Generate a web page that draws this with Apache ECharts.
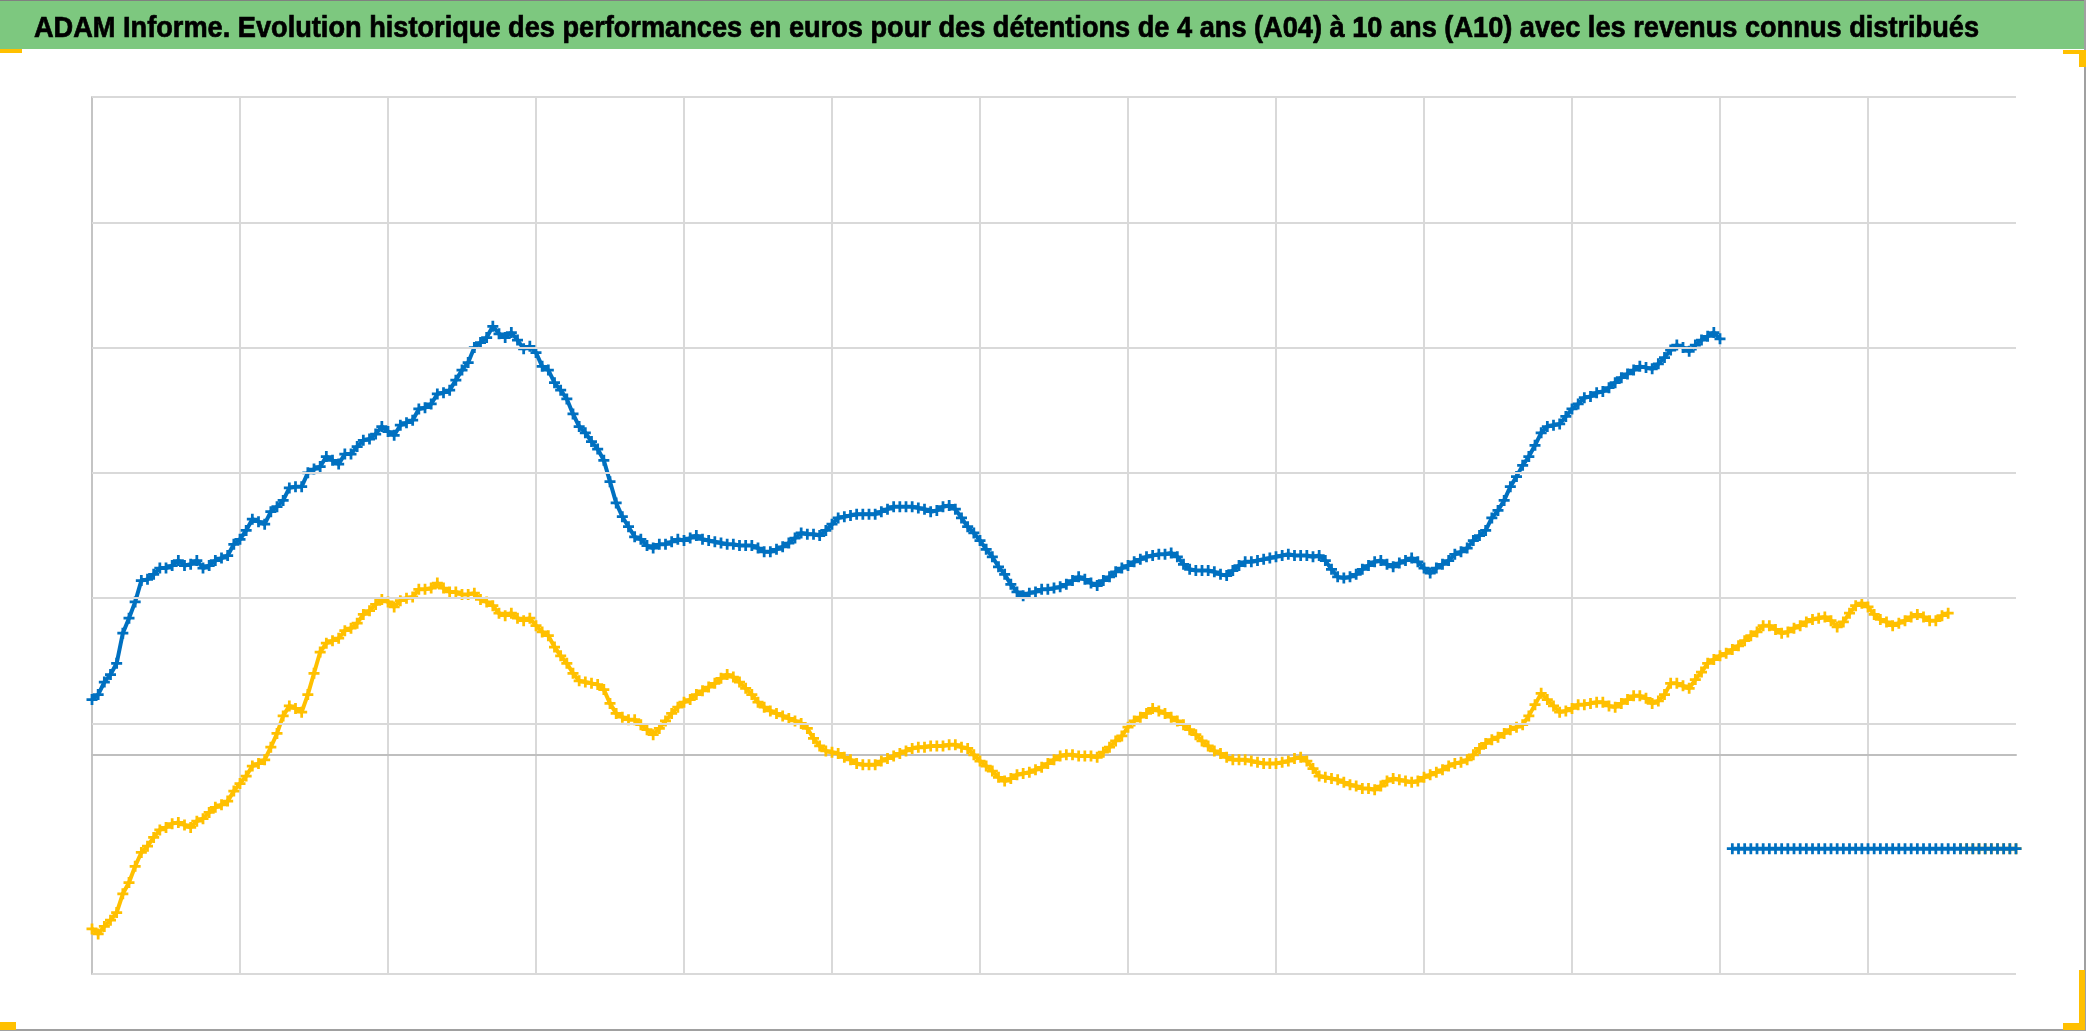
<!DOCTYPE html>
<html><head><meta charset="utf-8">
<script src="https://cdn.jsdelivr.net/npm/echarts@6/dist/echarts.min.js"></script>
<style>html,body{margin:0;padding:0;background:#fff;overflow:hidden}#c{width:2086px;height:1031px}</style>
</head><body><div id="c"></div><script>
const titleText = "ADAM Informe. Evolution historique des performances en euros pour des détentions de 4 ans (A04) à 10 ans (A10) avec les revenus connus distribués";

// x positions are observation indexes (0..312), vertical gridline every 24 observations
const xMax = 312;
const xStep = 24;
// y range and the horizontal gridlines that are drawn (the one at -75 is absent in the original)
const yMin = -175;
const yMax = 525;
const yGridValues = [-175, 25, 125, 225, 325, 425, 525];

// blue series, a gap, then its flat tail
const blueSeries = [
44,48,58,64,73,97,109,122,139,140,
144,149,149,151,155,151,152,155,149,151,
155,157,159,168,172,179,188,186,184,194,
198,203,213,214,214,225,228,230,238,235,
232,240,240,246,251,252,256,262,258,255,
263,265,267,276,277,280,288,289,291,299,
307,313,325,329,333,342,336,333,337,331,
324,326,321,310,307,297,291,284,272,262,
257,250,244,235,218,201,190,182,174,172,
167,165,168,168,170,172,171,173,175,172,
171,170,169,168,168,167,167,167,165,162,
162,164,166,169,173,177,176,176,175,179,
184,189,190,191,192,192,192,192,194,196,
198,198,198,198,197,196,194,195,198,199,
196,189,182,177,171,164,158,150,144,136,
130,127,129,130,132,132,133,134,136,139,
142,140,137,135,139,142,146,149,151,154,
156,158,159,160,160,161,158,152,148,147,
147,147,146,144,143,147,151,154,154,155,
156,157,158,159,160,159,159,159,158,159,
155,148,142,141,142,144,148,151,154,155,
152,150,153,155,157,154,149,145,149,152,
155,160,162,165,171,175,179,189,195,203,
214,222,231,238,247,257,262,263,264,270,
276,280,285,286,289,290,293,297,301,304,
307,310,309,308,312,317,323,327,325,322,
327,331,334,337,332,
null,
-75,-75,-75,-75,-75,-75,-75,-75,-75,-75,
-75,-75,-75,-75,-75,-75,-75,-75,-75,-75,
-75,-75,-75,-75,-75,-75,-75,-75,-75,-75,
-75,-75,-75,-75,-75,-75,-75,-75,-75,-75,
-75,-75,-75,-75,-75,-75,-75
];

// yellow series, a gap, then its flat tail
const yellowSeries = [
-139,-143,-137,-132,-126,-111,-102,-89,-78,-73,
-66,-60,-58,-55,-54,-56,-58,-53,-51,-46,
-42,-40,-37,-29,-23,-17,-9,-7,-4,6,
17,31,39,37,34,48,65,82,89,91,
93,99,101,105,112,115,120,124,122,118,
123,125,126,132,132,133,137,133,130,130,
128,128,129,124,122,119,113,111,113,109,
107,109,103,98,95,86,79,73,65,59,
58,57,56,52,41,33,30,28,28,24,
20,16,21,27,33,38,42,44,48,51,
54,57,61,64,62,58,53,48,42,38,
35,33,31,29,27,25,21,13,7,3,
2,1,-2,-4,-7,-8,-8,-8,-5,-3,
-1,1,3,5,6,6,7,7,7,8,
8,6,5,0,-5,-9,-13,-18,-21,-19,
-16,-15,-14,-12,-10,-7,-4,-1,0,0,
-1,-1,-1,-2,2,6,11,15,22,27,
30,33,37,35,33,30,27,24,20,16,
11,7,3,1,-2,-4,-4,-4,-5,-6,
-7,-7,-7,-6,-5,-3,-2,-5,-11,-17,
-18,-19,-20,-22,-24,-25,-27,-27,-28,-25,
-21,-19,-20,-21,-22,-21,-18,-16,-14,-12,
-9,-7,-6,-4,0,5,9,12,14,17,
20,22,24,31,40,49,44,39,34,35,
37,40,40,41,42,42,39,38,41,44,
47,47,45,41,43,48,57,57,55,53,
60,66,73,76,79,81,84,87,91,95,
98,103,103,100,97,98,101,103,106,108,
109,110,107,102,106,113,119,121,118,112,
108,106,103,105,107,110,112,110,107,107,
111,113,
null,
-75,-75,-75,-75,-75,-75,-75,-75,-75,-75
];

const plusSymbol = 'path://M3,0H5V3H8V5H5V8H3V5H0V3H3Z';
const toPoints = arr => arr.map((v, i) => [i, v]);

// title sizing (horizontal scale to match the condensed original font)
const titleFont = 'bold 30px "Liberation Sans Narrow", "Liberation Sans", Arial, sans-serif';
const mctx = document.createElement('canvas').getContext('2d');
mctx.font = titleFont;
const titleW = mctx.measureText(titleText).width;
const titleTargetW = 1945;
const titleScale = titleTargetW / titleW;

function markerSeries(name, values, color, z) {
  return {
    name: name, type: 'line', data: toPoints(values), connectNulls: false,
    showSymbol: true, showAllSymbol: true, symbol: plusSymbol, symbolSize: 11,
    lineStyle: {color: color, width: 4}, itemStyle: {color: color, opacity: 1},
    z: z, silent: true
  };
}

const chart = echarts.init(document.getElementById('c'), null, {renderer: 'canvas'});
chart.setOption({
  animation: false,
  backgroundColor: '#ffffff',
  grid: {left: 92, right: 70, top: 97, bottom: 57, containLabel: false},
  xAxis: {
    type: 'value', min: 0, max: xMax, interval: xStep,
    axisLine: {show: true, onZero: true, lineStyle: {color: '#bfbfbf', width: 2}},
    axisTick: {show: false}, axisLabel: {show: false},
    splitLine: {show: true, showMinLine: false, showMaxLine: false, lineStyle: {color: '#d9d9d9', width: 2}}
  },
  yAxis: {
    type: 'value', min: yMin, max: yMax,
    axisLine: {show: true, onZero: false, lineStyle: {color: '#c4c4c4', width: 2}},
    axisTick: {show: false}, axisLabel: {show: false},
    splitLine: {show: false}
  },
  series: [
    {
      name: 'grid', type: 'scatter', data: [], z: 1, silent: true,
      markLine: {
        silent: true, symbol: ['none', 'none'], label: {show: false},
        lineStyle: {color: '#d9d9d9', width: 2, type: 'solid'},
        data: yGridValues.map(v => ({yAxis: v}))
      }
    },
    markerSeries('A04', yellowSeries, '#FFC000', 3),
    markerSeries('A10', blueSeries, '#0070C0', 4)
  ],
  graphic: [
    {type: 'rect', shape: {x: 0, y: 0, width: 2086, height: 49}, style: {fill: '#7dc87f'}, z: 10},
    {type: 'rect', shape: {x: 0, y: 0, width: 2086, height: 1}, style: {fill: '#808080'}, z: 11},
    {type: 'rect', shape: {x: 2084, y: 0, width: 2, height: 1031}, style: {fill: '#a0a0a0'}, z: 11},
    {type: 'rect', shape: {x: 0, y: 1029, width: 2086, height: 2}, style: {fill: '#a0a0a0'}, z: 11},
    {type: 'text', x: 34, y: 28.3, scaleX: titleScale, z: 12,
      style: {text: titleText, font: titleFont, fill: '#000000', stroke: '#000000', lineWidth: 0.7,
              verticalAlign: 'middle', align: 'left'}},
    {type: 'rect', shape: {x: 0, y: 49, width: 22, height: 4}, style: {fill: '#FFC000'}, z: 12},
    {type: 'rect', shape: {x: 2063, y: 50, width: 23, height: 4}, style: {fill: '#FFC000'}, z: 12},
    {type: 'rect', shape: {x: 2079, y: 50, width: 7, height: 17}, style: {fill: '#FFC000'}, z: 12},
    {type: 'rect', shape: {x: 0, y: 1022, width: 16, height: 8}, style: {fill: '#FFC000'}, z: 12},
    {type: 'rect', shape: {x: 2079, y: 970, width: 6, height: 60}, style: {fill: '#FFC000'}, z: 12},
    {type: 'rect', shape: {x: 2063, y: 1023, width: 22, height: 7}, style: {fill: '#FFC000'}, z: 12}
  ]
});
</script></body></html>
